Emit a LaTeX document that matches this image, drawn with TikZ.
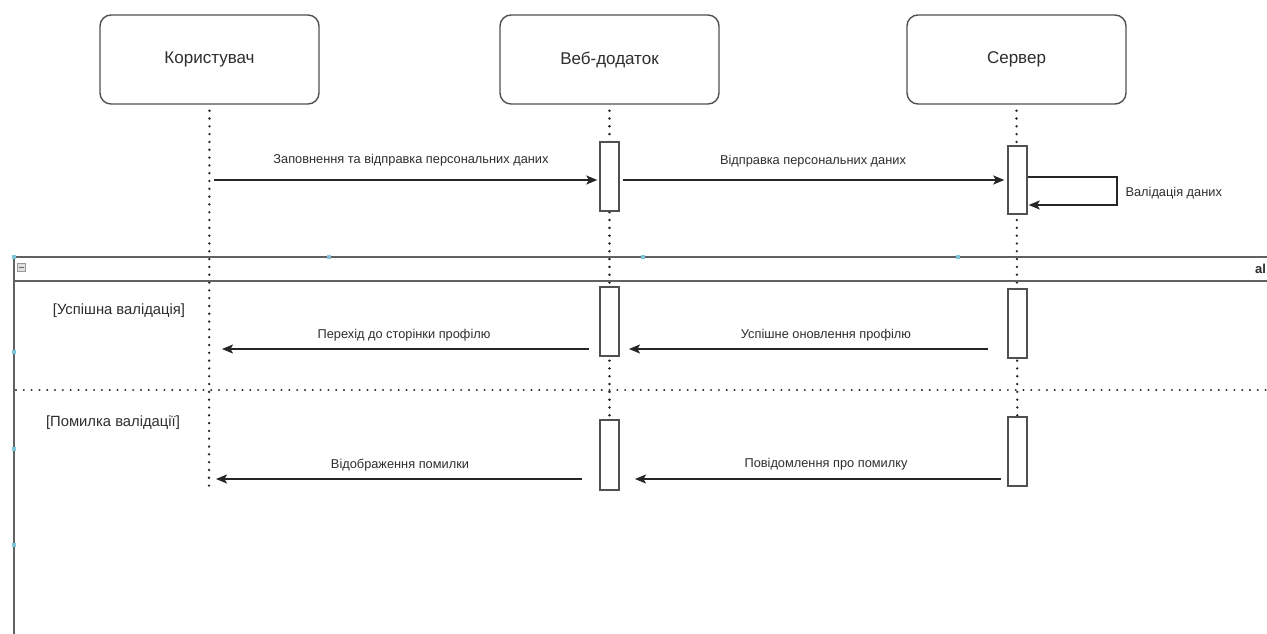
\documentclass[tikz,border=0pt]{standalone}
\usepackage{fontspec}
\setmainfont{Liberation Sans}
\usetikzlibrary{arrows.meta}
\definecolor{ln}{HTML}{505050}
\definecolor{tx}{HTML}{2E2E2E}
\definecolor{hd}{HTML}{7FC4D8}
\tikzset{
  actor/.style={draw=ln, line width=1.4pt, rounded corners=11pt, minimum width=219pt, minimum height=89pt, font=\fontsize{17}{20}\selectfont, text=tx},
  actbox/.style={draw=ln, line width=1.4pt, fill=white, minimum width=19pt, inner sep=0pt},
  life/.style={draw=black!85, line width=2.6pt, line cap=round, dash pattern=on 0.01pt off 7.8pt},
  msg/.style={draw=black!85, line width=1.5pt, -{Stealth[length=11pt,width=9pt,inset=2.5pt]}},
  lbl/.style={font=\fontsize{12.8}{15}\selectfont, text=tx},
  guard/.style={font=\fontsize{14.8}{17}\selectfont, text=tx},
  frameln/.style={draw=ln!90, line width=1.6pt},
  handle/.style={fill=hd, draw=none, minimum size=4pt, inner sep=0pt}
}
\begin{document}
\begin{tikzpicture}[x=1pt, y=-1pt]
\useasboundingbox[fill=white] (0,0) rectangle (1267,634);
% actors
\node[actor] (user) at (209.5,59.5) {Користувач};
\node[actor] (web) at (609.5,59.5) {Веб-додаток};
\node[actor] (srv) at (1016.5,59.5) {Сервер};
% lifeline end coordinates
\coordinate (userend) at (209,490);
\coordinate (webend) at (609.5,490);
\coordinate (srvend) at (1017.5,486);
\draw[life] ([yshift=-6pt]user.south) -- (userend);
\draw[life] ([yshift=-6pt]web.south) -- (webend);
\draw[life] ([yshift=-6pt]srv.south) -- (srvend);
% frame
\coordinate (ftl) at (14,257);
\coordinate (ftr) at (1267,257);
\coordinate (fhl) at (14,281);
\coordinate (fhr) at (1267,281);
\coordinate (fbl) at (14,634);
\coordinate (sepl) at (16,390);
\coordinate (sepr) at (1267,390);
\draw[frameln] (ftr) -- (ftl) -- (fbl);
\draw[frameln] (fhl) -- (fhr);
\draw[life, line width=2.3pt] (sepl) -- (sepr);
\node[draw=gray!80, fill=gray!25, minimum size=8pt, inner sep=0pt, line width=0.6pt] (minus) at (21,267) {};
\draw[gray!80!black, line width=0.8pt] ([xshift=-2.5pt]minus.center) -- ([xshift=2.5pt]minus.center);
\node[anchor=west, font=\fontsize{13}{15}\selectfont\bfseries, text=tx, inner sep=0pt] (altlbl) at (1255,269) {al};
% handles
\node[handle] (h1) at (14,257) {};
\node[handle] (h2) at (329,257) {};
\node[handle] (h3) at (643,257) {};
\node[handle] (h4) at (958,257) {};
\node[handle] (h5) at (14,352) {};
\node[handle] (h6) at (14,449) {};
\node[handle] (h7) at (14,545) {};
% activation boxes
\node[actbox, minimum height=69pt] (w1) at (609.5,176.5) {};
\node[actbox, minimum height=68pt] (s1) at (1017.5,180) {};
\node[actbox, minimum height=69pt] (w2) at (609.5,321.5) {};
\node[actbox, minimum height=69pt] (s2) at (1017.5,323.5) {};
\node[actbox, minimum height=70pt] (w3) at (609.5,455) {};
\node[actbox, minimum height=69pt] (s3) at (1017.5,451.5) {};
% message 1
\coordinate (m1s) at (214,180);
\draw[msg] (m1s) -- ([xshift=-2pt]w1.west |- m1s) coordinate (m1e);
\node[lbl] (l1) at (411,160) {Заповнення та відправка персональних даних};
% message 2
\draw[msg] (w1.east |- m1s) ++(3,0) coordinate (m2s) -- ([xshift=-3pt]s1.west |- m1s) coordinate (m2e);
\node[lbl] (l2) at (813,161) {Відправка персональних даних};
% self message
\coordinate (sm1) at (1117,177);
\coordinate (sm2) at (1117,205);
\draw[draw=black!85, line width=1.5pt, -{Stealth[length=11pt,width=9pt,inset=2.5pt]}] (s1.east |- sm1) -- (sm1) -- (sm2) -- ([xshift=1pt]s1.east |- sm2);
\node[lbl, anchor=west] (l3) at (1122,193) {Валідація даних};
% guards
\node[guard] (g1) at (119,311) {[Успішна валідація]};
\node[guard] (g2) at (113,423) {[Помилка валідації]};
% alt 1
\coordinate (u1) at (222,349);
\draw[msg] ([xshift=-10pt]w2.west |- u1) -- (u1);
\node[lbl] (l4) at (404,335) {Перехід до сторінки профілю};
\coordinate (wa1) at (629,349);
\draw[msg] ([xshift=-19pt]s2.west |- wa1) -- (wa1);
\node[lbl] (l5) at (826,335) {Успішне оновлення профілю};
% alt 2
\coordinate (u2) at (216,479);
\draw[msg] ([xshift=-17pt]w3.west |- u2) -- (u2);
\node[lbl] (l6) at (400,465) {Відображення помилки};
\coordinate (wa2) at (635,479);
\draw[msg] ([xshift=-6pt]s3.west |- wa2) -- (wa2);
\node[lbl] (l7) at (826,464) {Повідомлення про помилку};
\end{tikzpicture}
\end{document}
